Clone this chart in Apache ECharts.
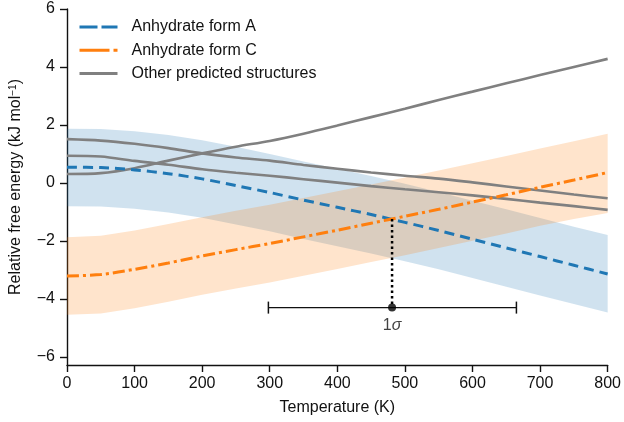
<!DOCTYPE html>
<html>
<head>
<meta charset="utf-8">
<script src="https://cdn.jsdelivr.net/npm/echarts@6/dist/echarts.min.js"></script>
<style>html,body{margin:0;padding:0;background:#fff}#c{width:624px;height:422px}</style>
</head>
<body>
<div id="c"></div>
<script>
// Temperatures (K)
var temps = [0,50,100,150,200,250,300,350,400,450,500,550,600,650,700,750,800];
// Anhydrate form A (kJ/mol)
var formA = [0.54,0.53,0.45,0.32,0.14,-0.09,-0.33,-0.59,-0.84,-1.09,-1.36,-1.64,-1.94,-2.24,-2.54,-2.84,-3.14];
var formAUpper = [1.87,1.86,1.78,1.65,1.47,1.25,1.00,0.74,0.49,0.24,-0.03,-0.31,-0.61,-0.91,-1.21,-1.51,-1.80];
var formALower = [-0.80,-0.81,-0.89,-1.02,-1.20,-1.43,-1.67,-1.93,-2.18,-2.43,-2.70,-2.98,-3.28,-3.58,-3.88,-4.18,-4.47];
// Anhydrate form C
var formC = [-3.21,-3.16,-2.98,-2.76,-2.52,-2.30,-2.09,-1.86,-1.63,-1.39,-1.15,-0.91,-0.66,-0.41,-0.15,0.10,0.36];
var formCUpper = [-1.87,-1.82,-1.64,-1.42,-1.18,-0.96,-0.75,-0.52,-0.29,-0.05,0.19,0.43,0.68,0.93,1.19,1.44,1.70];
var formCLower = [-4.55,-4.50,-4.32,-4.10,-3.86,-3.64,-3.43,-3.20,-2.97,-2.73,-2.49,-2.24,-1.99,-1.74,-1.48,-1.24,-1.04];
// Other predicted structures
var other1 = [1.51,1.46,1.35,1.20,1.02,0.88,0.77,0.62,0.49,0.36,0.25,0.15,0.02,-0.12,-0.26,-0.40,-0.53];
var other2 = [0.94,0.91,0.76,0.63,0.47,0.35,0.25,0.13,0.01,-0.11,-0.22,-0.32,-0.43,-0.55,-0.68,-0.80,-0.93];
var other3 = [0.31,0.34,0.51,0.77,1.02,1.25,1.45,1.70,1.98,2.27,2.56,2.86,3.15,3.44,3.72,4.00,4.28];
// Crossing marker and 1 sigma bar
var crossT = 481, crossE = -1.24;
var sigmaE = -4.3, sigmaLow = 298, sigmaHigh = 665;
// Axis ticks
var yTicks = [-6,-4,-2,0,2,4,6];

function pairs(vals){ return temps.map(function(t,i){ return [t, vals[i]]; }); }

var BLUE = '#1f77b4', ORANGE = '#ff7f0e', GRAY = '#808080';
var FONT = 'Liberation Sans, Arial, sans-serif';

function bandSeries(upper, lower, color){
  return {
    type: 'custom', silent: true, z: 1, clip: true,
    data: [[temps[0], upper[0]]],
    renderItem: function(params, api){
      var pts = [];
      for (var i = 0; i < temps.length; i++) pts.push(api.coord([temps[i], upper[i]]));
      for (var j = temps.length - 1; j >= 0; j--) pts.push(api.coord([temps[j], lower[j]]));
      return {type: 'polygon', shape: {points: pts}, style: {fill: color}};
    }
  };
}

var chart = echarts.init(document.getElementById('c'), null, {renderer:'canvas'});
chart.setOption({
  animation: false,
  backgroundColor: '#fff',
  textStyle: {fontFamily: FONT},
  grid: {left: 66, right: 15, top: 9, bottom: 57},
  legend: {
    orient: 'vertical', left: 73, top: 14, itemWidth: 38, itemHeight: 14, itemGap: 7.3,
    textStyle: {fontSize: 16, color: '#111', fontFamily: FONT, padding: [0,0,0,9]},
    data: [
      {name: 'Anhydrate form A', itemStyle: {opacity: 0}, lineStyle: {type: [18,4], width: 3, color: BLUE}},
      {name: 'Anhydrate form C', itemStyle: {opacity: 0}, lineStyle: {type: [30,4,4,10], width: 3, color: ORANGE}},
      {name: 'Other predicted structures', itemStyle: {opacity: 0}, lineStyle: {width: 3, color: GRAY}}
    ]
  },
  xAxis: {
    type: 'value', min: 0, max: 800, interval: 100,
    name: 'Temperature (K)', nameLocation: 'middle', nameGap: 35,
    nameTextStyle: {fontSize: 16, color: '#111', fontFamily: FONT},
    axisLine: {onZero: false, lineStyle: {color: '#111', width: 1.4}},
    axisTick: {length: 7, lineStyle: {color: '#111', width: 1.4}},
    axisLabel: {fontSize: 16, color: '#111', margin: 11, fontFamily: FONT},
    splitLine: {show: false}
  },
  yAxis: {
    type: 'value', min: -6.28, max: 6,
    name: '{a|Relative free energy (kJ mol}{s|−1}{a|)}', nameLocation: 'middle', nameGap: 43,
    nameTextStyle: {color: '#111', rich: {a: {fontSize: 16, fontFamily: FONT, color: '#111'}, s: {fontSize: 10, fontFamily: FONT, color: '#111', verticalAlign: 'top', padding:[0,0,6,0]}}},
    axisLine: {show: true, onZero: false, lineStyle: {color: '#111', width: 1.4}},
    axisTick: {show: true, length: 7, lineStyle: {color: '#111', width: 1.4}, customValues: yTicks},
    axisLabel: {fontSize: 16, color: '#111', margin: 12, fontFamily: FONT, customValues: yTicks,
      formatter: function(v){ return v < 0 ? '\u2212' + Math.abs(v) : String(v); }},
    splitLine: {show: false}
  },
  series: [
    bandSeries(formAUpper, formALower, 'rgba(31,119,180,0.21)'),
    bandSeries(formCUpper, formCLower, 'rgba(255,127,14,0.21)'),
    {name: 'Other predicted structures', type: 'line', data: pairs(other1), symbol: 'none', smooth: 0.3, color: GRAY, lineStyle: {color: GRAY, width: 2.6}, z: 3},
    {name: 'Other predicted structures', type: 'line', data: pairs(other2), symbol: 'none', smooth: 0.3, color: GRAY, lineStyle: {color: GRAY, width: 2.6}, z: 3},
    {name: 'Other predicted structures', type: 'line', data: pairs(other3), symbol: 'none', smooth: 0.3, color: GRAY, lineStyle: {color: GRAY, width: 2.6}, z: 3},
    {name: 'Anhydrate form A', type: 'line', data: pairs(formA), symbol: 'none', smooth: 0.3, color: BLUE, lineStyle: {color: BLUE, width: 3, type: [10,6]}, z: 4},
    {name: 'Anhydrate form C', type: 'line', data: pairs(formC), symbol: 'none', smooth: 0.3, color: ORANGE, lineStyle: {color: ORANGE, width: 3, type: [12,4,3,4]}, z: 5},
    {name: 'cross', type: 'line', data: [[crossT, crossE],[crossT, sigmaE]], symbol: 'none', lineStyle: {color: '#000', width: 2.5, type: [2.5,3]}, z: 6},
    {name: 'sigma', type: 'line', data: [[sigmaLow, sigmaE],[sigmaHigh, sigmaE]], symbol: 'rect', symbolSize: [1.5,12], showSymbol: true, itemStyle: {color: '#111'}, lineStyle: {color: '#111', width: 1.3}, z: 6},
    {name: 'dot', type: 'scatter', data: [[crossT, sigmaE]], symbol: 'circle', symbolSize: 8, itemStyle: {color: '#000'}, z: 7,
      label: {show: true, position: 'bottom', distance: 6, formatter: '{n|1}{g|σ}',
        rich: {n: {fontSize: 16, fontFamily: FONT, color: '#111'}, g: {fontSize: 16, fontFamily: FONT, fontStyle: 'italic', color: '#111'}}}}
  ]
});
</script>
</body>
</html>
